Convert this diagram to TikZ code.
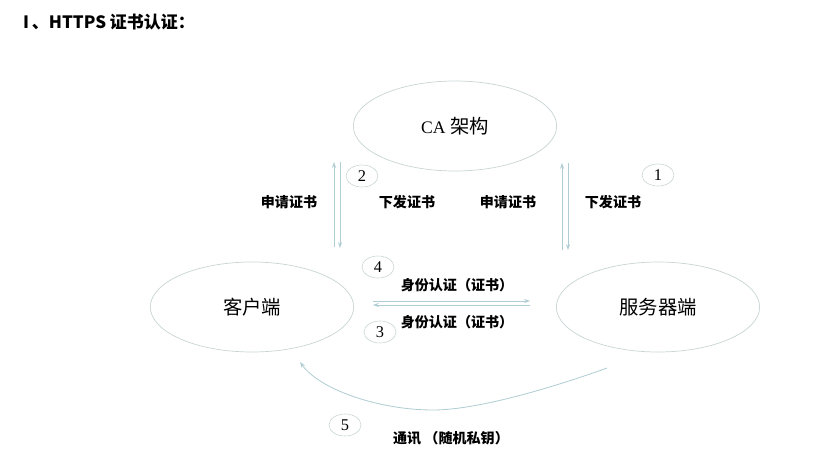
\documentclass[tikz,border=0pt]{standalone}
\usepackage{fontspec}
\setmainfont{Noto Sans CJK SC}
\newfontfamily\serif{Liberation Serif}
\usetikzlibrary{shapes.geometric,arrows.meta,positioning}
\definecolor{rim}{RGB}{200,212,212}
\definecolor{link}{RGB}{175,205,210}

\tikzset{
  party/.style={ellipse, draw=rim, line width=.6pt, minimum width=6.1cm, minimum height=2.7cm, font=\fontsize{16.5}{18}\selectfont},
  num/.style={ellipse, draw=rim, line width=.5pt, minimum width=.96cm, minimum height=.66cm, inner sep=0pt, font=\serif\fontsize{14}{16}\selectfont},
  msg/.style={font=\bfseries\fontsize{12}{14}\selectfont},
  flow/.style={draw=link, line width=.7pt, -{Stealth[length=5pt,width=3.5pt]}},
}

\begin{document}
\begin{tikzpicture}[x=.03cm, y=-.03cm]
\useasboundingbox (0,0) rectangle (835,468);
\node[anchor=west, font=\bfseries\fontsize{14.5}{17}\selectfont] (title) at (19,22) {I\,、HTTPS 证书认证：};

% the three parties
\node[party] (ca) at (455,126) {{\serif\fontsize{15}{18}\selectfont CA}\hspace{4pt}架构};
\node[party] (client) at (252,307) {客户端};
\node[party] (server) at (658,307) {服务器端};

% arrow ends
\coordinate (cl-lo) at (334,247);
\coordinate (cl-hi) at (334,162);
\coordinate (cr-hi) at (340,162);
\coordinate (cr-lo) at (340,248);
\coordinate (sl-lo) at (562,250);
\coordinate (sl-hi) at (562,163);
\coordinate (sr-hi) at (568,163);
\coordinate (sr-lo) at (568,250);
\coordinate (h-left) at (373,301);
\coordinate (h-right) at (530,301);
\coordinate (g-right) at (530,305);
\coordinate (g-left) at (373,305);

\draw[flow] (cl-lo) -- (cl-hi);
\draw[flow] (cr-hi) -- (cr-lo);
\draw[flow] (sl-lo) -- (sl-hi);
\draw[flow] (sr-hi) -- (sr-lo);
\draw[flow] (h-left) -- (h-right);
\draw[flow] (g-right) -- (g-left);

% session
\coordinate (s-start) at (607,368);
\coordinate (s-mid) at (433,410);
\coordinate (s-end) at (300,362);
\draw[flow] (s-start) .. controls (560,385) and (480,410) .. (s-mid)
  .. controls (380,410) and (320,390) .. (s-end);

% labels
\node[msg] (req-c) at (289,202) {申请证书};
\node[msg] (iss-c) at (407,202) {下发证书};
\node[msg] (req-s) at (508,202) {申请证书};
\node[msg] (iss-s) at (613,202) {下发证书};
\node[msg] (auth-up) at (457,285) {身份认证（证书）};
\node[msg] (auth-dn) at (457,322) {身份认证（证书）};
\node[msg] (talk) at (451,438) {通讯 （随机私钥）};

% steps
\node[num] (n1) at (658,175) {1};
\node[num] (n2) at (362,176) {2};
\node[num] (n3) at (380,332) {3};
\node[num] (n4) at (378,267) {4};
\node[num] (n5) at (345,425) {5};
\end{tikzpicture}
\end{document}
